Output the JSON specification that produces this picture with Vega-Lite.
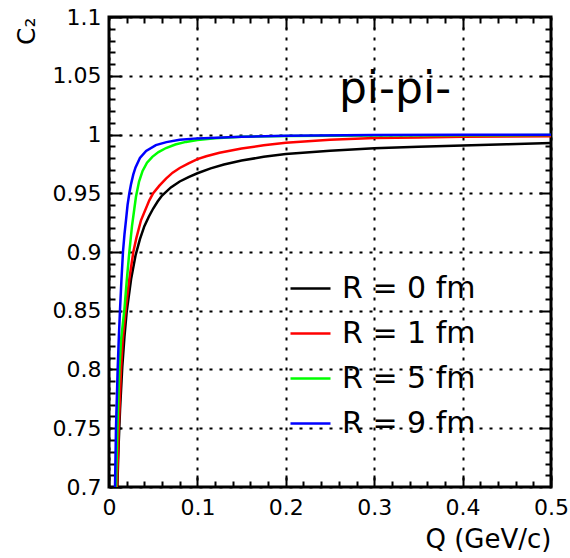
{
  "$schema": "https://vega.github.io/schema/vega-lite/v6.json",
  "width": 442,
  "height": 470,
  "padding": {"left": 14, "top": 6, "right": 5, "bottom": 5},
  "background": "white",
  "config": {
    "view": {"stroke": "black", "strokeWidth": 3},
    "font": "DejaVu Sans",
    "axis": {"labelColor": "black", "titleColor": "black", "tickColor": "black", "domain": false, "labelOverlap": false, "labelFlush": false, "titleFontWeight": "normal"}
  },
  "datasets": {
    "curves": [
      {"R": "R = 0 fm", "Q": 0.009, "C2": 0.686}, {"R": "R = 0 fm", "Q": 0.01, "C2": 0.714}, {"R": "R = 0 fm", "Q": 0.011, "C2": 0.738}, {"R": "R = 0 fm", "Q": 0.0125, "C2": 0.766}, {"R": "R = 0 fm", "Q": 0.015, "C2": 0.802}, {"R": "R = 0 fm", "Q": 0.0175, "C2": 0.828}, {"R": "R = 0 fm", "Q": 0.02, "C2": 0.849}, {"R": "R = 0 fm", "Q": 0.025, "C2": 0.877}, {"R": "R = 0 fm", "Q": 0.03, "C2": 0.897}, {"R": "R = 0 fm", "Q": 0.035, "C2": 0.911}, {"R": "R = 0 fm", "Q": 0.04, "C2": 0.922}, {"R": "R = 0 fm", "Q": 0.045, "C2": 0.930}, {"R": "R = 0 fm", "Q": 0.05, "C2": 0.937}, {"R": "R = 0 fm", "Q": 0.055, "C2": 0.943}, {"R": "R = 0 fm", "Q": 0.06, "C2": 0.948}, {"R": "R = 0 fm", "Q": 0.07, "C2": 0.955}, {"R": "R = 0 fm", "Q": 0.08, "C2": 0.960}, {"R": "R = 0 fm", "Q": 0.09, "C2": 0.9638}, {"R": "R = 0 fm", "Q": 0.1, "C2": 0.9670}, {"R": "R = 0 fm", "Q": 0.115, "C2": 0.9712}, {"R": "R = 0 fm", "Q": 0.13, "C2": 0.9745}, {"R": "R = 0 fm", "Q": 0.15, "C2": 0.9778}, {"R": "R = 0 fm", "Q": 0.175, "C2": 0.981}, {"R": "R = 0 fm", "Q": 0.2, "C2": 0.9834}, {"R": "R = 0 fm", "Q": 0.25, "C2": 0.9862}, {"R": "R = 0 fm", "Q": 0.3, "C2": 0.9883}, {"R": "R = 0 fm", "Q": 0.35, "C2": 0.9896}, {"R": "R = 0 fm", "Q": 0.4, "C2": 0.9907}, {"R": "R = 0 fm", "Q": 0.45, "C2": 0.9917}, {"R": "R = 0 fm", "Q": 0.5, "C2": 0.9927},
      {"R": "R = 1 fm", "Q": 0.0082, "C2": 0.685}, {"R": "R = 1 fm", "Q": 0.009, "C2": 0.70}, {"R": "R = 1 fm", "Q": 0.011, "C2": 0.75}, {"R": "R = 1 fm", "Q": 0.0136, "C2": 0.80}, {"R": "R = 1 fm", "Q": 0.0155, "C2": 0.825}, {"R": "R = 1 fm", "Q": 0.0192, "C2": 0.853}, {"R": "R = 1 fm", "Q": 0.023, "C2": 0.877}, {"R": "R = 1 fm", "Q": 0.0275, "C2": 0.90}, {"R": "R = 1 fm", "Q": 0.031, "C2": 0.912}, {"R": "R = 1 fm", "Q": 0.0362, "C2": 0.927}, {"R": "R = 1 fm", "Q": 0.0456, "C2": 0.944}, {"R": "R = 1 fm", "Q": 0.05, "C2": 0.950}, {"R": "R = 1 fm", "Q": 0.057, "C2": 0.9565}, {"R": "R = 1 fm", "Q": 0.0645, "C2": 0.9625}, {"R": "R = 1 fm", "Q": 0.072, "C2": 0.9675}, {"R": "R = 1 fm", "Q": 0.08, "C2": 0.9715}, {"R": "R = 1 fm", "Q": 0.09, "C2": 0.9755}, {"R": "R = 1 fm", "Q": 0.1, "C2": 0.979}, {"R": "R = 1 fm", "Q": 0.11, "C2": 0.9815}, {"R": "R = 1 fm", "Q": 0.125, "C2": 0.9845}, {"R": "R = 1 fm", "Q": 0.15, "C2": 0.988}, {"R": "R = 1 fm", "Q": 0.175, "C2": 0.9908}, {"R": "R = 1 fm", "Q": 0.2, "C2": 0.993}, {"R": "R = 1 fm", "Q": 0.25, "C2": 0.9955}, {"R": "R = 1 fm", "Q": 0.3, "C2": 0.997}, {"R": "R = 1 fm", "Q": 0.35, "C2": 0.9975}, {"R": "R = 1 fm", "Q": 0.4, "C2": 0.998}, {"R": "R = 1 fm", "Q": 0.45, "C2": 0.9983}, {"R": "R = 1 fm", "Q": 0.5, "C2": 0.9985},
      {"R": "R = 5 fm", "Q": 0.0072, "C2": 0.69}, {"R": "R = 5 fm", "Q": 0.0079, "C2": 0.70}, {"R": "R = 5 fm", "Q": 0.0095, "C2": 0.75}, {"R": "R = 5 fm", "Q": 0.0117, "C2": 0.80}, {"R": "R = 5 fm", "Q": 0.0136, "C2": 0.825}, {"R": "R = 5 fm", "Q": 0.0173, "C2": 0.85}, {"R": "R = 5 fm", "Q": 0.02, "C2": 0.875}, {"R": "R = 5 fm", "Q": 0.023, "C2": 0.90}, {"R": "R = 5 fm", "Q": 0.026, "C2": 0.922}, {"R": "R = 5 fm", "Q": 0.0287, "C2": 0.937}, {"R": "R = 5 fm", "Q": 0.0305, "C2": 0.947}, {"R": "R = 5 fm", "Q": 0.034, "C2": 0.960}, {"R": "R = 5 fm", "Q": 0.038, "C2": 0.969}, {"R": "R = 5 fm", "Q": 0.043, "C2": 0.976}, {"R": "R = 5 fm", "Q": 0.049, "C2": 0.981}, {"R": "R = 5 fm", "Q": 0.056, "C2": 0.985}, {"R": "R = 5 fm", "Q": 0.0645, "C2": 0.9885}, {"R": "R = 5 fm", "Q": 0.075, "C2": 0.9915}, {"R": "R = 5 fm", "Q": 0.087, "C2": 0.9937}, {"R": "R = 5 fm", "Q": 0.1, "C2": 0.9953}, {"R": "R = 5 fm", "Q": 0.12, "C2": 0.9968}, {"R": "R = 5 fm", "Q": 0.15, "C2": 0.998}, {"R": "R = 5 fm", "Q": 0.2, "C2": 0.9988}, {"R": "R = 5 fm", "Q": 0.3, "C2": 0.9992}, {"R": "R = 5 fm", "Q": 0.4, "C2": 0.9994}, {"R": "R = 5 fm", "Q": 0.5, "C2": 0.9995},
      {"R": "R = 9 fm", "Q": 0.0062, "C2": 0.69}, {"R": "R = 9 fm", "Q": 0.0068, "C2": 0.70}, {"R": "R = 9 fm", "Q": 0.0079, "C2": 0.75}, {"R": "R = 9 fm", "Q": 0.0098, "C2": 0.80}, {"R": "R = 9 fm", "Q": 0.011, "C2": 0.825}, {"R": "R = 9 fm", "Q": 0.0124, "C2": 0.85}, {"R": "R = 9 fm", "Q": 0.014, "C2": 0.875}, {"R": "R = 9 fm", "Q": 0.0158, "C2": 0.90}, {"R": "R = 9 fm", "Q": 0.0175, "C2": 0.915}, {"R": "R = 9 fm", "Q": 0.0192, "C2": 0.927}, {"R": "R = 9 fm", "Q": 0.021, "C2": 0.940}, {"R": "R = 9 fm", "Q": 0.023, "C2": 0.950}, {"R": "R = 9 fm", "Q": 0.025, "C2": 0.958}, {"R": "R = 9 fm", "Q": 0.0275, "C2": 0.966}, {"R": "R = 9 fm", "Q": 0.03, "C2": 0.972}, {"R": "R = 9 fm", "Q": 0.035, "C2": 0.980}, {"R": "R = 9 fm", "Q": 0.042, "C2": 0.986}, {"R": "R = 9 fm", "Q": 0.053, "C2": 0.991}, {"R": "R = 9 fm", "Q": 0.065, "C2": 0.9935}, {"R": "R = 9 fm", "Q": 0.08, "C2": 0.9955}, {"R": "R = 9 fm", "Q": 0.1, "C2": 0.9967}, {"R": "R = 9 fm", "Q": 0.15, "C2": 0.998}, {"R": "R = 9 fm", "Q": 0.2, "C2": 0.999}, {"R": "R = 9 fm", "Q": 0.3, "C2": 0.9995}, {"R": "R = 9 fm", "Q": 0.4, "C2": 0.9997}, {"R": "R = 9 fm", "Q": 0.5, "C2": 0.9998}
    ]
  },
  "data": {"name": "curves"},
  "layer": [
    {
      "mark": {"type": "line", "clip": true, "strokeWidth": 2.5},
      "encoding": {
        "x": {"field": "Q", "type": "quantitative", "scale": {"domain": [0, 0.5], "nice": false, "zero": false},
          "axis": {"orient": "bottom", "values": [0, 0.1, 0.2, 0.3, 0.4, 0.5], "format": ".1~f", "title": "Q (GeV/c)", "titleAnchor": "end", "titleFontSize": 26, "titlePadding": 8, "labelFontSize": 22, "labelPadding": 10, "ticks": false, "grid": true, "gridColor": "black", "gridDash": [3, 7], "gridWidth": 2, "gridOpacity": 1}},
        "y": {"field": "C2", "type": "quantitative", "scale": {"domain": [0.7, 1.1], "nice": false, "zero": false},
          "axis": {"orient": "left", "values": [0.7, 0.75, 0.8, 0.85, 0.9, 0.95, 1, 1.05, 1.1], "format": ".2~f", "title": "C₂", "titleAnchor": "end", "titleFontSize": 25, "titlePadding": 13, "labelFontSize": 22, "labelPadding": 8, "ticks": false, "grid": true, "gridColor": "black", "gridDash": [3, 7], "gridWidth": 2, "gridOpacity": 1}},
        "color": {"field": "R", "type": "nominal",
          "scale": {"domain": ["R = 0 fm", "R = 1 fm", "R = 5 fm", "R = 9 fm"], "range": ["#000000", "#ff0000", "#00ff00", "#0000ff"]},
          "legend": {"orient": "none", "legendX": 180, "legendY": 250, "title": null, "symbolType": "stroke", "symbolSize": 1600, "symbolStrokeWidth": 2.5, "labelFontSize": 30, "labelFont": "DejaVu Sans", "labelColor": "black", "labelOffset": 10, "rowPadding": 8, "padding": 0}}
      }
    },
    {
      "mark": {"type": "line", "opacity": 0},
      "encoding": {
        "x": {"field": "Q", "type": "quantitative", "scale": {"domain": [0, 0.5], "nice": false, "zero": false},
          "axis": {"orient": "bottom", "offset": -12, "values": [0, 0.1, 0.2, 0.3, 0.4, 0.5], "labels": false, "title": null, "grid": false, "tickSize": 12, "tickWidth": 2}},
        "y": {"field": "C2", "type": "quantitative", "scale": {"domain": [0.7, 1.1], "nice": false, "zero": false},
          "axis": {"orient": "left", "offset": -12, "values": [0.7, 0.75, 0.8, 0.85, 0.9, 0.95, 1, 1.05, 1.1], "labels": false, "title": null, "grid": false, "tickSize": 12, "tickWidth": 2}},
        "detail": {"field": "R"}
      }
    },
    {
      "mark": {"type": "line", "opacity": 0},
      "encoding": {
        "x": {"field": "Q", "type": "quantitative", "scale": {"domain": [0, 0.5], "nice": false, "zero": false},
          "axis": {"orient": "bottom", "offset": -6, "values": [0.02, 0.04, 0.06, 0.08, 0.12, 0.14, 0.16, 0.18, 0.22, 0.24, 0.26, 0.28, 0.32, 0.34, 0.36, 0.38, 0.42, 0.44, 0.46, 0.48], "labels": false, "title": null, "grid": false, "tickSize": 6, "tickWidth": 2}},
        "y": {"field": "C2", "type": "quantitative", "scale": {"domain": [0.7, 1.1], "nice": false, "zero": false},
          "axis": {"orient": "left", "offset": -6, "values": [0.71, 0.72, 0.73, 0.74, 0.76, 0.77, 0.78, 0.79, 0.81, 0.82, 0.83, 0.84, 0.86, 0.87, 0.88, 0.89, 0.91, 0.92, 0.93, 0.94, 0.96, 0.97, 0.98, 0.99, 1.01, 1.02, 1.03, 1.04, 1.06, 1.07, 1.08, 1.09], "labels": false, "title": null, "grid": false, "tickSize": 6, "tickWidth": 2}},
        "detail": {"field": "R"}
      }
    },
    {
      "mark": {"type": "line", "opacity": 0},
      "encoding": {
        "x": {"field": "Q", "type": "quantitative", "scale": {"domain": [0, 0.5], "nice": false, "zero": false},
          "axis": {"orient": "top", "offset": -12, "values": [0.1, 0.2, 0.3, 0.4], "labels": false, "title": null, "grid": false, "tickSize": 12, "tickWidth": 2}},
        "y": {"field": "C2", "type": "quantitative", "scale": {"domain": [0.7, 1.1], "nice": false, "zero": false},
          "axis": {"orient": "right", "offset": -12, "values": [0.75, 0.8, 0.85, 0.9, 0.95, 1, 1.05], "labels": false, "title": null, "grid": false, "tickSize": 12, "tickWidth": 2}},
        "detail": {"field": "R"}
      }
    },
    {
      "mark": {"type": "line", "opacity": 0},
      "encoding": {
        "x": {"field": "Q", "type": "quantitative", "scale": {"domain": [0, 0.5], "nice": false, "zero": false},
          "axis": {"orient": "top", "offset": -6, "values": [0.02, 0.04, 0.06, 0.08, 0.12, 0.14, 0.16, 0.18, 0.22, 0.24, 0.26, 0.28, 0.32, 0.34, 0.36, 0.38, 0.42, 0.44, 0.46, 0.48], "labels": false, "title": null, "grid": false, "tickSize": 6, "tickWidth": 2}},
        "y": {"field": "C2", "type": "quantitative", "scale": {"domain": [0.7, 1.1], "nice": false, "zero": false},
          "axis": {"orient": "right", "offset": -6, "values": [0.71, 0.72, 0.73, 0.74, 0.76, 0.77, 0.78, 0.79, 0.81, 0.82, 0.83, 0.84, 0.86, 0.87, 0.88, 0.89, 0.91, 0.92, 0.93, 0.94, 0.96, 0.97, 0.98, 0.99, 1.01, 1.02, 1.03, 1.04, 1.06, 1.07, 1.08, 1.09], "labels": false, "title": null, "grid": false, "tickSize": 6, "tickWidth": 2}},
        "detail": {"field": "R"}
      }
    },
    {
      "data": {"values": [{"label": "pi-pi-"}]},
      "mark": {"type": "text", "font": "DejaVu Sans", "fontSize": 44, "align": "center", "baseline": "alphabetic", "color": "black"},
      "encoding": {
        "x": {"datum": 0.3235, "type": "quantitative", "axis": null},
        "y": {"datum": 1.027, "type": "quantitative", "axis": null},
        "text": {"field": "label"}
      }
    }
  ],
  "resolve": {"axis": {"x": "independent", "y": "independent"}}
}
